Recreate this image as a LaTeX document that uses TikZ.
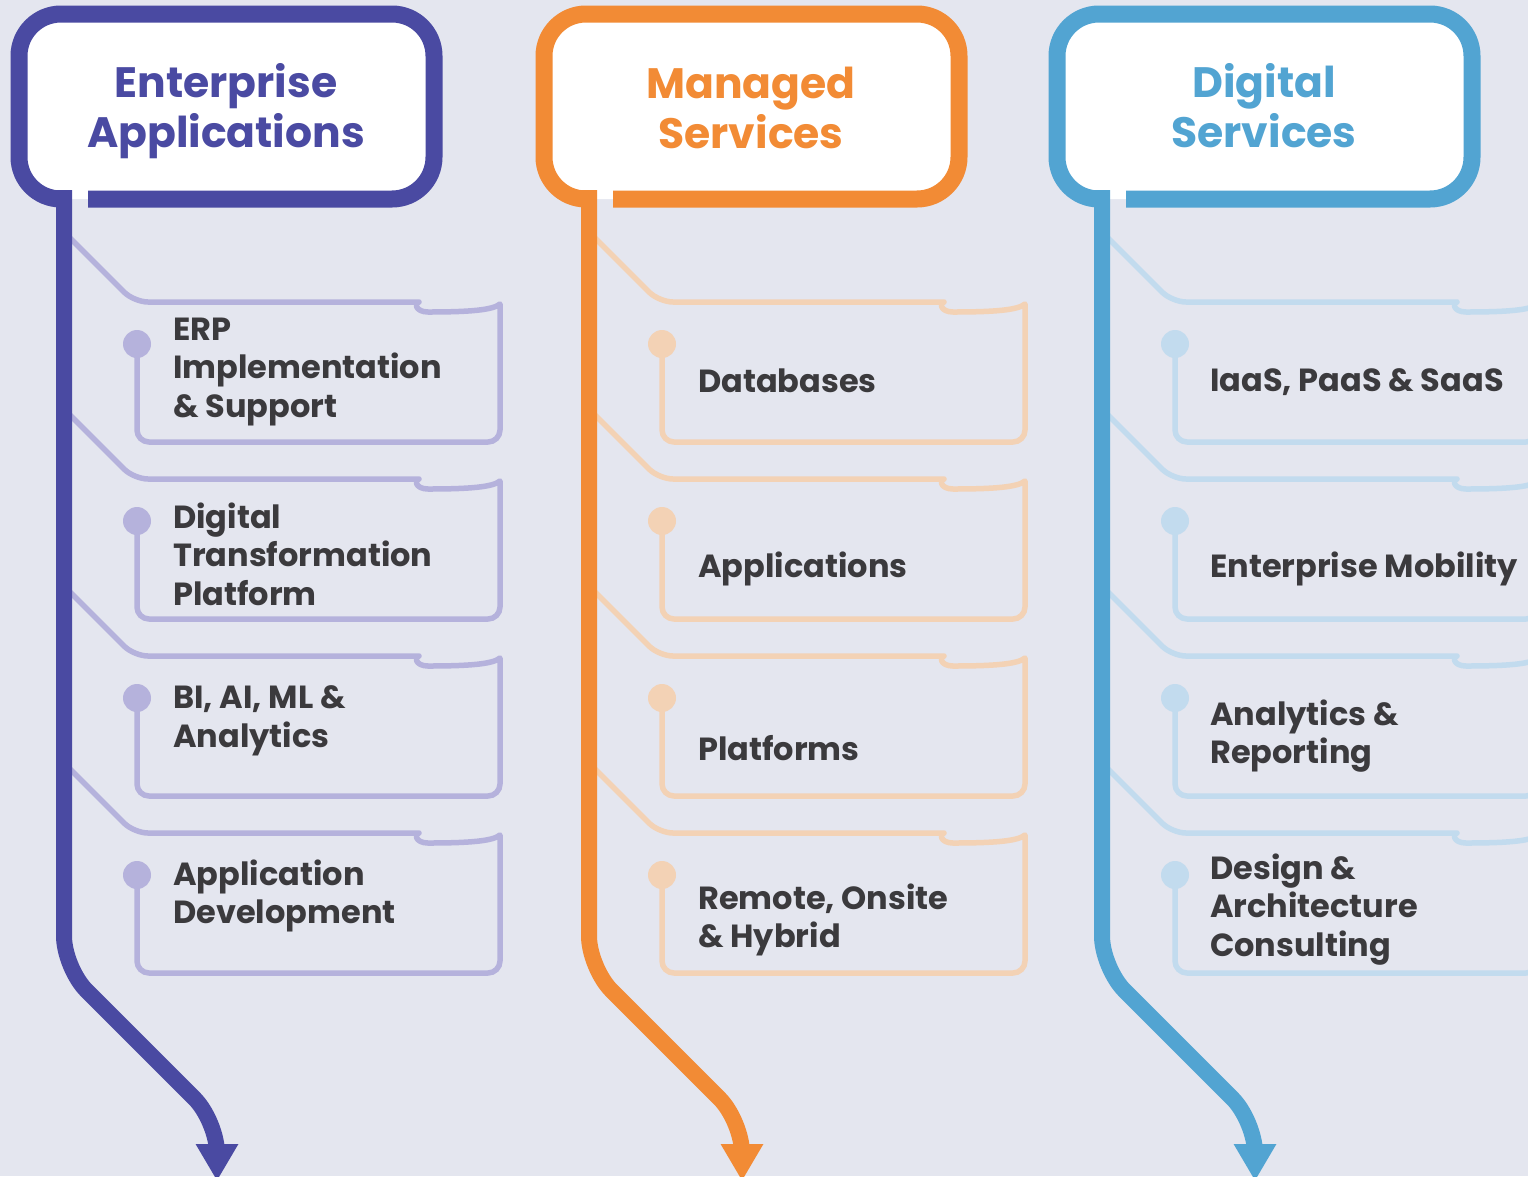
\documentclass[tikz,border=0pt]{standalone}
\usepackage{fontspec}
\setmainfont{Poppins}
\usepackage{xcolor}
\usepackage{tikz}
\usetikzlibrary{arrows.meta}
\usetikzlibrary{positioning}

\definecolor{bgcol}{HTML}{E4E6EF}
\definecolor{txtcol}{HTML}{3B3A3D}
\definecolor{purpleD}{HTML}{4A4AA2}
\definecolor{purpleL}{HTML}{B5B2DC}
\definecolor{orangeD}{HTML}{F28B35}
\definecolor{orangeL}{HTML}{F3D2B5}
\definecolor{blueD}{HTML}{52A4D2}
\definecolor{blueL}{HTML}{C2DBEE}

\tikzset{
  itemline/.style={line width=5.5pt, line join=round, line cap=round},
  headline/.style={line width=17pt, rounded corners=42pt},
  flowline/.style={line width=16pt, rounded corners=32pt, -{Triangle[length=37pt,width=40pt]}},
  headtext/.style={font=\fontsize{42.5}{50}\selectfont\bfseries, align=center},
  itemtext/.style={font=\fontsize{32}{38.5}\selectfont\bfseries, text=txtcol, align=left, anchor=west, inner sep=0pt},
}

% one service box: x shift, y shift, colour
\newcommand{\itembox}[3]{%
  \begin{scope}[shift={(#1,#2)}]
    \draw[itemline,#3] (64,232) [rounded corners=14pt] -- (134,302) -- (405,302) [sharp corners]
      .. controls (414,302) and (415,312) .. (428,312)
      .. controls (470,312) and (493,310) .. (500,304) [rounded corners=12pt]
      -- (500,442) -- (137,442) -- (137,344);
    \fill[#3] (137,344) circle (14pt);
  \end{scope}}

\begin{document}
\begin{tikzpicture}[x=1pt,y=-1pt]
	\useasboundingbox (0,0) rectangle (1528,1176);
	\clip (0,0) rectangle (1528,1176);
	\fill[bgcol] (0,0) rectangle (1528,1176);

	% service boxes
	\itembox{0}{0}{purpleL}
	\itembox{0}{177}{purpleL}
	\itembox{0}{354}{purpleL}
	\itembox{0}{531}{purpleL}
	\itembox{525}{0}{orangeL}
	\itembox{525}{177}{orangeL}
	\itembox{525}{354}{orangeL}
	\itembox{525}{531}{orangeL}
	\itembox{1038}{0}{blueL}
	\itembox{1038}{177}{blueL}
	\itembox{1038}{354}{blueL}
	\itembox{1038}{531}{blueL}

	% Enterprise Applications
	\fill[white, rounded corners=42pt] (19,14) rectangle (434,199);
	\draw[flowline, purpleD] (64,190) -- (64,968) -- (217,1121) -- (217,1181);
	\draw[headline, purpleD] (88,199) -- (434,199) -- (434,14) -- (19,14) -- (19,199) -- (64,199);
	\node[headtext, text=purpleD] (entTitle) at (226,111) {Enterprise\\Applications};

	% Managed Services
	\begin{scope}[shift={(525,0)}]
		\fill[white, rounded corners=42pt] (19,14) rectangle (434,199);
		\draw[flowline, orangeD] (64,190) -- (64,968) -- (217,1121) -- (217,1181);
		\draw[headline, orangeD] (88,199) -- (434,199) -- (434,14) -- (19,14) -- (19,199) -- (64,199);
		\node[headtext, text=orangeD] (manTitle) at (226,107.5) {Managed\\Services};
	\end{scope}

	% Digital Services
	\begin{scope}[shift={(1038,0)}]
		\fill[white, rounded corners=42pt] (19,14) rectangle (434,199);
		\draw[flowline, blueD] (64,190) -- (64,968) -- (217,1121) -- (217,1181);
		\draw[headline, blueD] (88,199) -- (434,199) -- (434,14) -- (19,14) -- (19,199) -- (64,199);
		\node[headtext, text=blueD] (digTitle) at (226,105.5) {Digital\\Services};
	\end{scope}

	% items
	\node[itemtext] (erp) at (173,372) {ERP\\Implementation\\\& Support};
	\node[itemtext] (dtp) at (173,554) {Digital\\Transformation\\Platform};
	\node[itemtext] (bi) at (173,721) {BI, AI, ML \&\\Analytics};
	\node[itemtext] (appdev) at (173,896) {Application\\Development};

	\node[itemtext] (db) at (698,381) {Databases};
	\node[itemtext] (apps) at (698,569) {Applications};
	\node[itemtext] (plat) at (698,748) {Platforms};
	\node[itemtext] (remote) at (698,920) {Remote, Onsite\\\& Hybrid};

	\node[itemtext] (iaas) at (1210,382) {IaaS, PaaS \& SaaS};
	\node[itemtext] (mob) at (1210,569) {Enterprise Mobility};
	\node[itemtext] (anrep) at (1210,736) {Analytics \&\\Reporting};
	\node[itemtext] (design) at (1210,909.5) {Design \&\\Architecture\\Consulting};
\end{tikzpicture}
\end{document}
